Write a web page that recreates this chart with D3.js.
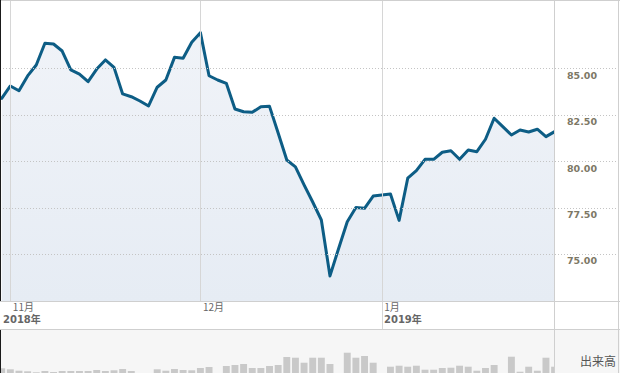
<!DOCTYPE html>
<html>
<head>
<meta charset="utf-8">
<script src="https://cdn.jsdelivr.net/npm/d3@7/dist/d3.min.js"></script>
<style>
  html, body { margin: 0; padding: 0; background: #fff; }
  svg { display: block; }
</style>
</head>
<body>
<svg id="chart" width="620" height="373"></svg>
<script>
// ---- data ----
const prices = [
  83.38, 84.05, 83.79, 84.59, 85.18, 86.35, 86.31, 85.93, 84.91, 84.69,
  84.28, 84.96, 85.45, 85.05, 83.62, 83.47, 83.24, 82.97, 83.98, 84.37,
  85.59, 85.54, 86.40, 86.92, 84.60, 84.37, 84.19, 82.81, 82.66, 82.63,
  82.93, 82.95, 81.52, 80.06, 79.69, 78.72, 77.80, 76.83, 73.82, 75.30,
  76.74, 77.50, 77.46, 78.12, 78.18, 78.23, 76.81, 79.08, 79.49, 80.10,
  80.10, 80.48, 80.56, 80.10, 80.60, 80.51, 81.18, 82.31, 81.86, 81.41,
  81.68, 81.57, 81.72, 81.32, 81.59
];
const volumes = [
  3.34, 3.14, 2.86, 2.74, 2.54, 2.80, 2.60, 2.80, 2.80, 2.80,
  2.80, 3.00, 2.80, 2.94, 3.20, 2.80, 2.00, 1.90, 3.14, 2.86,
  3.20, 3.00, 2.94, 3.40, 3.60, 2.20, 3.80, 4.00, 4.20, 3.40,
  3.40, 3.80, 4.00, 5.60, 5.46, 4.46, 5.46, 5.46, 4.20, 2.20,
  6.46, 5.46, 5.80, 4.46, 1.50, 3.66, 3.86, 3.66, 3.86, 3.06,
  3.06, 3.40, 3.46, 3.86, 3.66, 2.86, 3.40, 4.00, 2.20, 5.66,
  2.66, 3.66, 2.86, 5.46, 3.66
];
const yTicks = [75, 77.5, 80, 82.5, 85];
const monthTickIndex = [1, 23, 44];
const monthTickLabels = ["11月", "12月", "1月"];
const yearTickLabels = ["2018年", "", "2019年"];
const yearBoundary = [false, false, true];
const volumeLabel = "出来高";

// ---- layout ----
const W = 620, H = 373;
const plotLeft = 0, plotRight = 555, plotTop = 1, plotBottom = 301;
const labelBottom = 329;
const rightEdge = 618.5;

const svg = d3.select("#chart");
const idx = d3.range(prices.length);

const x = d3.scaleLinear().domain([0, prices.length - 1]).range([1.7, 554.6]);
const y = d3.scaleLinear().domain([75, 85]).range([254, 68.3]);
const yv = d3.scaleLinear().domain([0, 10]).range([385, 335]);

// defs
const defs = svg.append("defs");
const grad = defs.append("linearGradient").attr("id", "fillGrad")
  .attr("x1", 0).attr("y1", 0).attr("x2", 0).attr("y2", 1);
grad.append("stop").attr("offset", "0%").attr("stop-color", "#f0f3f8");
grad.append("stop").attr("offset", "100%").attr("stop-color", "#e6ecf4");
defs.append("clipPath").attr("id", "plotClip").append("rect")
  .attr("x", plotLeft).attr("y", plotTop).attr("width", plotRight - plotLeft).attr("height", plotBottom - plotTop);
defs.append("clipPath").attr("id", "volClip").append("rect")
  .attr("x", 0).attr("y", labelBottom + 1).attr("width", plotRight).attr("height", H - labelBottom);

// volume panel background
svg.append("rect").attr("x", 0).attr("y", labelBottom).attr("width", W).attr("height", H - labelBottom)
  .attr("fill", "#f6f6f6");

// area + line
const area = d3.area().x(i => x(i)).y0(plotBottom).y1(i => y(prices[i]));
const line = d3.line().x(i => x(i)).y(i => y(prices[i]));
const plotG = svg.append("g").attr("clip-path", "url(#plotClip)");
plotG.append("path").datum(idx).attr("d", area).attr("fill", "url(#fillGrad)");

// horizontal dotted gridlines
svg.append("g").selectAll("line").data(yTicks).join("line")
  .attr("x1", 0).attr("x2", rightEdge)
  .attr("y1", d => Math.round(y(d)) + 0.5).attr("y2", d => Math.round(y(d)) + 0.5)
  .attr("stroke", "#c4c4c4").attr("stroke-width", 1).attr("stroke-dasharray", "1,2");

// vertical month gridlines
svg.append("g").selectAll("line").data(monthTickIndex).join("line")
  .attr("x1", d => Math.round(x(d)) + 0.5).attr("x2", d => Math.round(x(d)) + 0.5)
  .attr("y1", 0).attr("y2", (d, i) => yearBoundary[i] ? labelBottom : plotBottom)
  .attr("stroke", "#d6d6d6").attr("stroke-width", 1);

plotG.append("path").datum(idx).attr("d", line)
  .attr("fill", "none").attr("stroke", "#0d5d85").attr("stroke-width", 3)
  .attr("stroke-linejoin", "round").attr("stroke-linecap", "round");

// volume bars
const bw = (x(1) - x(0)) * 0.8;
svg.append("g").attr("clip-path", "url(#volClip)").selectAll("rect").data(idx).join("rect")
  .attr("x", i => x(i) - bw / 2).attr("width", bw)
  .attr("y", i => yv(volumes[i])).attr("height", i => yv(0) - yv(volumes[i]))
  .attr("fill", "#c9c9c9");

// frame lines
const frame = svg.append("g").attr("stroke", "#cfcfcf").attr("stroke-width", 1);
frame.append("line").attr("x1", 0).attr("x2", W).attr("y1", 0.5).attr("y2", 0.5);
frame.append("line").attr("x1", 0).attr("x2", W).attr("y1", plotBottom + 0.5).attr("y2", plotBottom + 0.5);
frame.append("line").attr("x1", 0).attr("x2", W).attr("y1", labelBottom + 0.5).attr("y2", labelBottom + 0.5);
frame.append("line").attr("x1", plotRight - 0.5).attr("x2", plotRight - 0.5).attr("y1", 0).attr("y2", H);
frame.append("line").attr("x1", rightEdge).attr("x2", rightEdge).attr("y1", 0).attr("y2", H);

// left dark edge
svg.append("line").attr("x1", 0.5).attr("x2", 0.5).attr("y1", 0).attr("y2", plotBottom).attr("stroke", "#1a1a1a");
svg.append("line").attr("x1", 0.5).attr("x2", 0.5).attr("y1", labelBottom + 1).attr("y2", H).attr("stroke", "#1a1a1a");

// y axis labels
const yAxis = d3.axisRight(y).tickValues(yTicks).tickFormat(d3.format(".2f")).tickSize(0);
const yg = svg.append("g").attr("transform", "translate(567,0)").call(yAxis);
yg.select(".domain").remove();
yg.selectAll("text")
  .attr("x", 0).attr("dy", "1.05em")
  .attr("fill", "#7d7866")
  .style("font-family", "'DejaVu Sans', Verdana, sans-serif")
  .style("font-weight", "bold").style("font-size", "9.5px");

// x axis labels (month / year)
const xAxis = d3.axisBottom(x).tickValues(monthTickIndex).tickFormat((d, i) => monthTickLabels[i]).tickSize(0);
const xg = svg.append("g").attr("transform", `translate(0,${plotBottom})`).call(xAxis);
xg.select(".domain").remove();
xg.selectAll("text")
  .attr("text-anchor", "start").attr("x", 2).attr("y", 0).attr("dy", "10px")
  .attr("fill", "#666")
  .style("font-family", "'Noto Sans CJK JP', sans-serif").style("font-size", "10px");

svg.append("g").selectAll("text").data(monthTickIndex).join("text")
  .attr("x", (d, i) => i === 0 ? 3 : Math.round(x(d)) + 2)
  .attr("y", 323)
  .attr("fill", "#666")
  .style("font-family", "'DejaVu Sans', 'Noto Sans CJK JP', sans-serif")
  .style("font-weight", "bold").style("font-size", "10px")
  .text((d, i) => yearTickLabels[i]);

// volume label
svg.append("text").attr("x", 580).attr("y", 366)
  .attr("fill", "#555")
  .style("font-family", "'Noto Sans CJK JP', sans-serif").style("font-size", "12px")
  .text(volumeLabel);
</script>
</body>
</html>
